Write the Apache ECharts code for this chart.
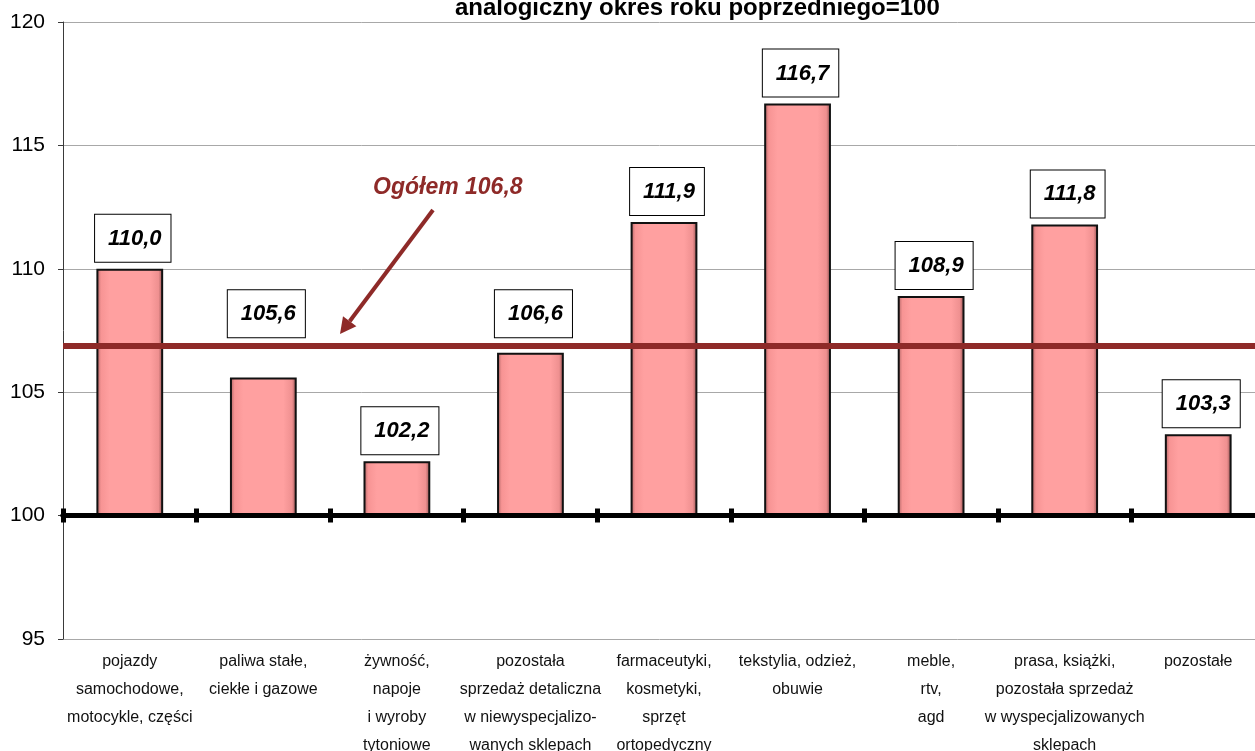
<!DOCTYPE html>
<html><head><meta charset="utf-8">
<script src="https://cdn.jsdelivr.net/npm/echarts@6/dist/echarts.min.js"></script>
<style>html,body{margin:0;padding:0;background:#fff}#c{width:1255px;height:751px}</style>
</head><body><div id="c"></div>
<script>
// ---- data ----
const categories = [
  'pojazdy\nsamochodowe,\nmotocykle, części',
  'paliwa stałe,\nciekłe i gazowe',
  'żywność,\nnapoje\ni wyroby\ntytoniowe',
  'pozostała\nsprzedaż detaliczna\nw niewyspecjalizo-\nwanych sklepach',
  'farmaceutyki,\nkosmetyki,\nsprzęt\nortopedyczny',
  'tekstylia, odzież,\nobuwie',
  'meble,\nrtv,\nagd',
  'prasa, książki,\npozostała sprzedaż\nw wyspecjalizowanych\nsklepach',
  'pozostałe'
];
const values = [110.0, 105.6, 102.2, 106.6, 111.9, 116.7, 108.9, 111.8, 103.3];
const baseValue = 100;          // analogiczny okres roku poprzedniego = 100
const totalValue = 106.8;       // Ogółem
const totalLineLevel = 106.9;   // level at which the "Ogółem" line is drawn
const yTicks = [95, 100, 105, 110, 115, 120];
const titleText = 'analogiczny okres roku poprzedniego=100';
const totalText = 'Ogółem ' + totalValue.toFixed(1).replace('.', ',');

// ---- styling ----
const FONT = '"Liberation Sans", Arial, sans-serif';
const DARK_RED = '#8e2a28';
const fmt = v => v.toFixed(1).replace('.', ',');
const yMin = yTicks[0] - baseValue;
const yMax = yTicks[yTicks.length - 1] - baseValue;
const yStep = yTicks[1] - yTicks[0];

const chart = echarts.init(document.getElementById('c'), null, {renderer: 'canvas'});

const barColor = new echarts.graphic.LinearGradient(0, 0, 1, 0, [
  {offset: 0, color: '#a86060'},
  {offset: 0.07, color: '#f79494'},
  {offset: 0.2, color: '#ffa0a0'},
  {offset: 0.8, color: '#ffa0a0'},
  {offset: 0.93, color: '#ef9090'},
  {offset: 1, color: '#8a4c4c'}
]);

const labelBase = {
  show: true, position: 'top', distance: 7, offset: [3, 0],
  formatter: p => fmt(values[p.dataIndex]),
  fontFamily: FONT, fontSize: 22, fontStyle: 'italic', fontWeight: 'bold', color: '#000',
  backgroundColor: '#fff', borderColor: '#000', borderWidth: 1,
  padding: [13, 9, 12, 13]
};

function barData(distances) {
  return values.map((v, i) => ({
    value: v - baseValue,
    label: Object.assign({}, labelBase, {distance: distances ? distances[i] : 7})
  }));
}

const tickAxis = (pos, yIdx) => ({
  type: 'category', data: categories, position: pos,
  axisLine: {show: true, onZero: true, onZeroAxisIndex: yIdx, lineStyle: {color: '#000', width: 5}},
  axisTick: {show: true, interval: 0, length: 7, lineStyle: {color: '#000', width: 5}},
  axisLabel: {show: false, interval: 0}, splitLine: {show: false}, z: 5
});

const option = {
  animation: false,
  backgroundColor: '#fff',
  title: {
    text: titleText, left: 450, top: -9,
    textStyle: {fontFamily: FONT, fontSize: 24, fontWeight: 'bold', color: '#000'}
  },
  grid: {left: 63, right: -10, top: 22, bottom: 112, containLabel: false, outerBoundsMode: 'none'},
  xAxis: [
    {
      type: 'category', data: categories, position: 'bottom',
      axisLine: {show: false, onZero: false}, axisTick: {show: false},
      axisLabel: {interval: 0, margin: 9, fontFamily: FONT, fontSize: 16, lineHeight: 28, color: '#111'}
    },
    tickAxis('bottom', 0),
    tickAxis('top', 1)
  ],
  yAxis: [
    {
      type: 'value', min: yMin, max: yMax, interval: yStep,
      axisLine: {show: true, lineStyle: {color: '#3a3a3a', width: 1}},
      axisTick: {show: true, length: 5, lineStyle: {color: '#3a3a3a', width: 1}},
      axisLabel: {margin: 18, fontFamily: FONT, fontSize: 21, color: '#000',
        formatter: v => String(Math.round(v + baseValue))},
      splitLine: {show: true, lineStyle: {color: '#a8a8a8', width: 1}}
    },
    {
      type: 'value', min: yMin, max: yMax, interval: yStep, show: false,
      splitLine: {show: false}
    }
  ],
  series: [{
    type: 'bar', xAxisIndex: 0, yAxisIndex: 0,
    barWidth: '50%',
    data: barData(null),
    itemStyle: {color: barColor, borderColor: '#111', borderWidth: 2},
    markLine: {
      silent: true, symbol: 'none', label: {show: false},
      lineStyle: {color: DARK_RED, width: 6, type: 'solid'},
      data: [{yAxis: totalLineLevel - baseValue}]
    },
    z: 3
  }],
  graphic: [
    {type: 'text', x: 373, y: 188, z: 100,
      style: {text: totalText, font: 'italic bold 23px "Liberation Sans", Arial', fill: DARK_RED, verticalAlign: 'middle'}},
    {type: 'line', z: 100, shape: {x1: 433, y1: 210, x2: 349.7, y2: 321.2},
      style: {stroke: DARK_RED, lineWidth: 4}},
    {type: 'polygon', z: 100, shape: {points: [[340, 334], [356.4, 326.2], [343.0, 316.2]]},
      style: {fill: DARK_RED}}
  ]
};

chart.setOption(option);

// Raise labels that would collide with the "Ogółem" line above it.
const lineTop = chart.convertToPixel({yAxisIndex: 0}, totalLineLevel - baseValue) - 3;
const boxH = 48;
const distances = values.map(v => {
  const top = chart.convertToPixel({yAxisIndex: 0}, v - baseValue);
  let d = 7;
  if (top > lineTop && top - d - boxH < lineTop + 6) d = top - (lineTop - 5);
  return d;
});
chart.setOption({series: [{data: barData(distances)}]});
</script>
</body></html>
